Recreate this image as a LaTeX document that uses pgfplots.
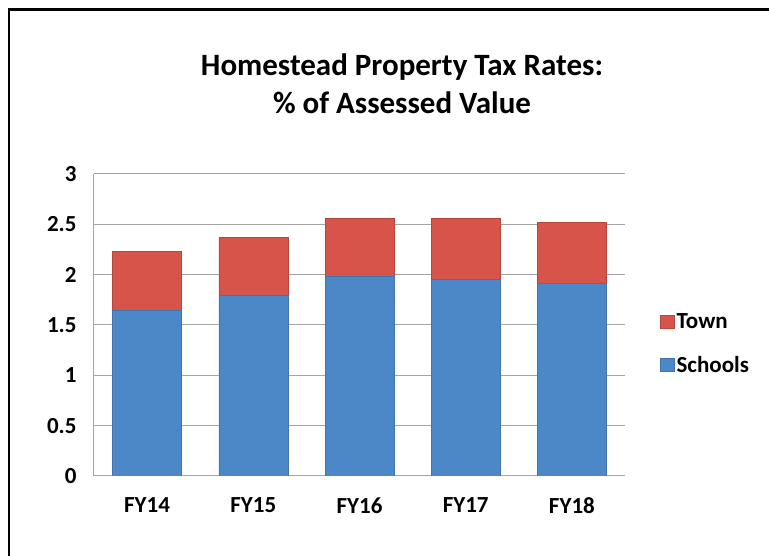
\documentclass[border=0pt]{standalone}
\usepackage{fontspec}
\setmainfont{Carlito}
\usepackage{pgfplots}
\pgfplotsset{compat=1.18}
\definecolor{sch}{RGB}{76,136,200}
\definecolor{twn}{RGB}{214,84,74}
\definecolor{gridc}{RGB}{165,165,165}
\begin{document}
\begin{tikzpicture}[x=1pt,y=1pt]
\path[use as bounding box] (0,0) rectangle (769,556);
\draw[black, line width=2.5pt] (9,-2) -- (9,546.5) -- (771,546.5);
\node[font=\fontsize{31}{36}\selectfont\bfseries, anchor=base] at (402,480) {Homestead Property Tax Rates:};
\node[font=\fontsize{31}{36}\selectfont\bfseries, anchor=base] at (402,442) {\% of Assessed Value};
\begin{axis}[
  at={(94pt,80pt)}, anchor=south west,
  scale only axis, width=531pt, height=302pt,
  ybar stacked, bar width=69pt,
  xmin=-0.5, xmax=4.5, ymin=0, ymax=3,
  xtick=data, xticklabels={FY14,FY15,FY16,FY17,FY18},
  ytick={0,0.5,1,1.5,2,2.5,3},
  yticklabels={0,0.5,1,1.5,2,2.5,3},
  /pgf/number format/assume math mode=true,
  major tick length=0pt,
  ymajorgrids, grid style={gridc, line width=1pt},
  axis lines*=left, axis line style={gridc, line width=1pt},
  ticklabel style={font=\fontsize{23}{27}\selectfont\bfseries},
  yticklabel style={xshift=-14pt},
  xticklabel style={yshift=-18pt},
  legend style={at={(1.06,0.437)}, anchor=west, draw=none, fill=none,
    font=\fontsize{23}{27}\selectfont\bfseries, row sep=22pt,
    legend cell align=left},
  reverse legend,
  legend image code/.code={\fill[#1] (0pt,-6pt) rectangle (14pt,7pt);},
]
\addplot[fill=sch, draw=sch!85!black, line width=0.5pt] coordinates {(0,1.65) (1,1.80) (2,1.98) (3,1.95) (4,1.91)};
\addplot[fill=twn, draw=twn!85!black, line width=0.5pt] coordinates {(0,0.58) (1,0.57) (2,0.58) (3,0.61) (4,0.61)};
\legend{Schools,Town}
\end{axis}
\end{tikzpicture}
\end{document}
